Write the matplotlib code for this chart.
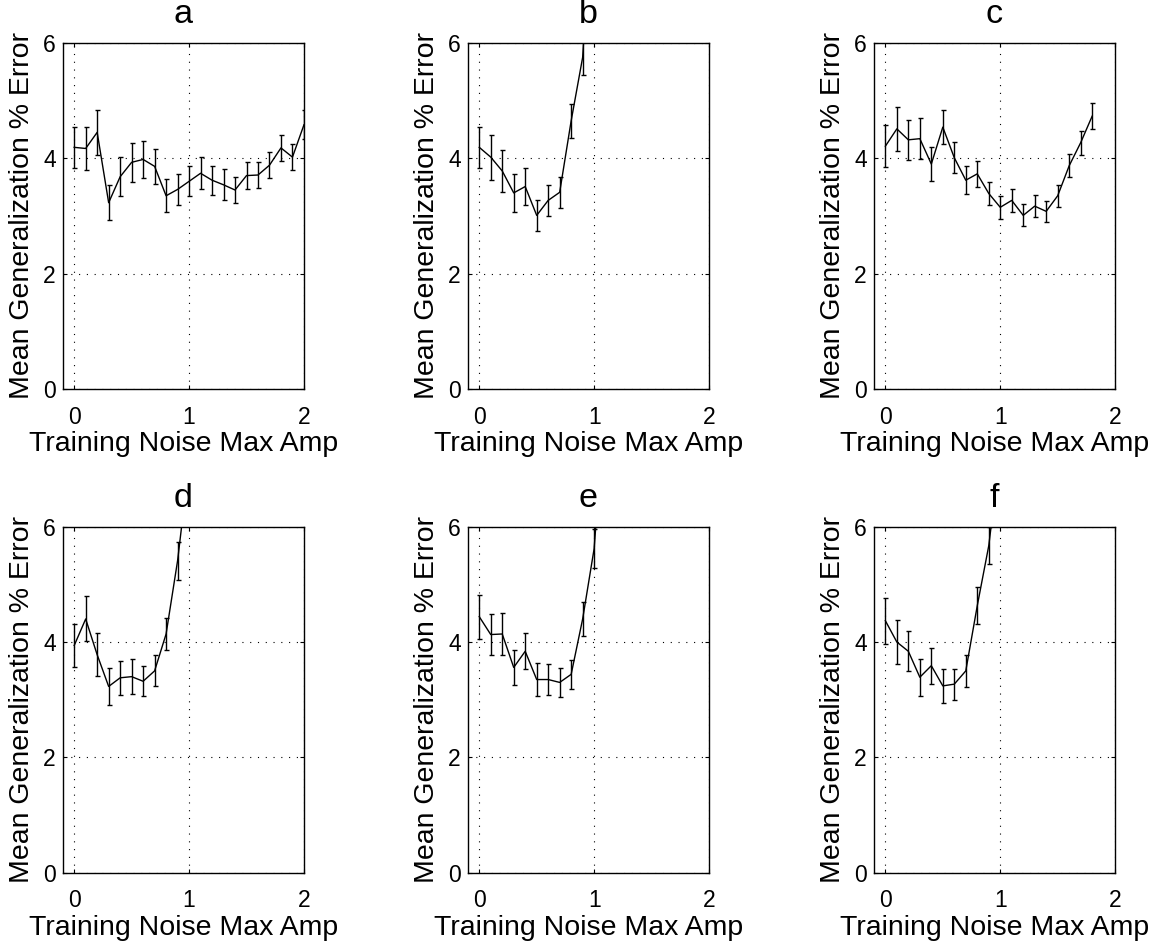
import numpy as np
import matplotlib.pyplot as plt

plt.rcParams['font.family'] = ['Liberation Sans', 'DejaVu Sans']
plt.rcParams['font.size'] = 20.5

# noise amplitude steps
noise_a = [0.0, 0.1, 0.2, 0.3, 0.4, 0.5, 0.6, 0.7, 0.8, 0.9, 1.0,
           1.1, 1.2, 1.3, 1.4, 1.5, 1.6, 1.7, 1.8, 1.9, 2.0]
mean_a = [4.19, 4.17, 4.45, 3.23, 3.68, 3.93, 3.98, 3.86, 3.35, 3.46, 3.60,
          3.74, 3.62, 3.54, 3.45, 3.70, 3.71, 3.88, 4.18, 4.02, 4.58]
err_a = [0.36, 0.37, 0.39, 0.30, 0.34, 0.34, 0.32, 0.30, 0.29, 0.27, 0.26,
         0.28, 0.25, 0.27, 0.23, 0.24, 0.23, 0.23, 0.23, 0.22, 0.25]

noise_b = [0.0, 0.1, 0.2, 0.3, 0.4, 0.5, 0.6, 0.7, 0.8, 0.9, 1.0]
mean_b = [4.19, 4.02, 3.78, 3.40, 3.51, 3.01, 3.27, 3.41, 4.65, 5.75, 9.0]
err_b = [0.36, 0.39, 0.36, 0.33, 0.32, 0.27, 0.27, 0.27, 0.29, 0.30, 0.35]

noise_c = [0.0, 0.1, 0.2, 0.3, 0.4, 0.5, 0.6, 0.7, 0.8, 0.9, 1.0,
           1.1, 1.2, 1.3, 1.4, 1.5, 1.6, 1.7, 1.8]
mean_c = [4.21, 4.51, 4.32, 4.34, 3.90, 4.54, 4.01, 3.62, 3.73, 3.39, 3.15,
          3.27, 3.01, 3.17, 3.08, 3.35, 3.87, 4.27, 4.73]
err_c = [0.36, 0.38, 0.35, 0.35, 0.30, 0.30, 0.27, 0.24, 0.23, 0.20, 0.20,
         0.20, 0.19, 0.19, 0.18, 0.19, 0.20, 0.21, 0.23]

noise_d = [0.0, 0.1, 0.2, 0.3, 0.4, 0.5, 0.6, 0.7, 0.8, 0.9, 1.0]
mean_d = [3.94, 4.40, 3.78, 3.23, 3.38, 3.40, 3.32, 3.50, 4.14, 5.41, 7.1]
err_d = [0.37, 0.39, 0.37, 0.32, 0.30, 0.30, 0.26, 0.27, 0.28, 0.33, 0.35]

noise_e = [0.0, 0.1, 0.2, 0.3, 0.4, 0.5, 0.6, 0.7, 0.8, 0.9, 1.0, 1.1]
mean_e = [4.44, 4.13, 4.14, 3.56, 3.84, 3.35, 3.35, 3.30, 3.44, 4.40, 5.62, 8.3]
err_e = [0.38, 0.36, 0.36, 0.31, 0.31, 0.28, 0.27, 0.25, 0.25, 0.30, 0.34, 0.35]

noise_f = [0.0, 0.1, 0.2, 0.3, 0.4, 0.5, 0.6, 0.7, 0.8, 0.9, 1.0]
mean_f = [4.37, 4.00, 3.84, 3.39, 3.59, 3.24, 3.27, 3.50, 4.63, 5.67, 7.3]
err_f = [0.40, 0.38, 0.35, 0.32, 0.31, 0.29, 0.27, 0.28, 0.32, 0.32, 0.35]

titles = ['a', 'b', 'c', 'd', 'e', 'f']
panels = [(noise_a, mean_a, err_a), (noise_b, mean_b, err_b),
          (noise_c, mean_c, err_c), (noise_d, mean_d, err_d),
          (noise_e, mean_e, err_e), (noise_f, mean_f, err_f)]

fig = plt.figure(figsize=(11.57, 9.48), dpi=100)

lefts = [0.0542, 0.4043, 0.7553]
bottoms = [0.5897, 0.0794]
width, height = 0.2085, 0.3650

for i, (x, y, e) in enumerate(panels):
    row, col = divmod(i, 3)
    ax = fig.add_axes([lefts[col], bottoms[row], width, height])
    ax.errorbar(x, y, yerr=e, color='black', linewidth=1.0,
                elinewidth=1.0, capsize=1.8, capthick=1.0)
    ax.set_xlim(-0.1, 2)
    ax.set_ylim(0, 6)
    ax.set_xticks([0, 1, 2])
    ax.set_yticks([0, 2, 4, 6])
    ax.grid(True, color='black', linestyle=(0, (1, 6)), linewidth=0.8)
    ax.tick_params(direction='in', length=3, top=True, right=True,
                   labelsize=16.5)
    ax.tick_params(axis='x', pad=12)
    ax.tick_params(axis='y', pad=5)
    for s in ax.spines.values():
        s.set_linewidth(1.0)
    ax.set_title(titles[i], pad=14)
    ax.set_xlabel('Training Noise Max Amp', labelpad=2)
    ax.set_ylabel('Mean Generalization % Error', labelpad=6)

fig.savefig('out.png', dpi=100)
